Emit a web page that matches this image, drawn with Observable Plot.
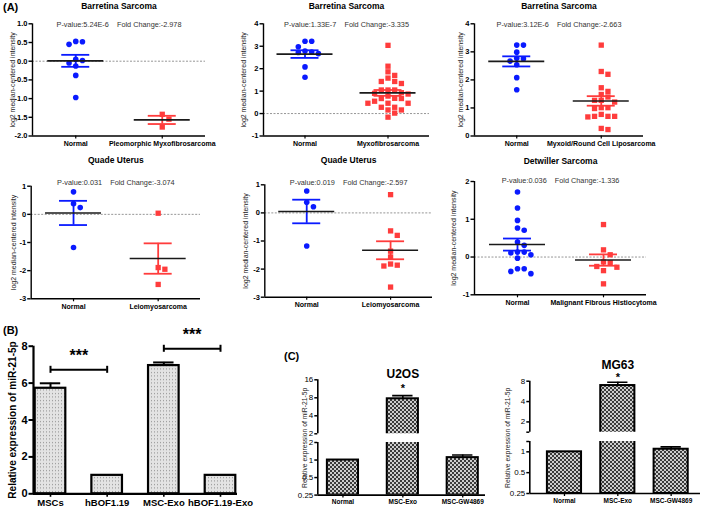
<!DOCTYPE html>
<html><head><meta charset="utf-8">
<script src="https://cdn.jsdelivr.net/npm/d3@7"></script>
<script src="https://cdn.jsdelivr.net/npm/@observablehq/plot@0.6"></script>
<style>
body{margin:0;background:#fff;font-family:"Liberation Sans",Arial,sans-serif;}
#fig{position:relative;width:709px;height:508px;overflow:hidden;background:#fff;}
.p{position:absolute;}
.p svg{overflow:visible !important;background:transparent !important;max-width:none !important;}
.lab{position:absolute;font-weight:bold;font-size:11px;line-height:14px;}
</style></head><body>
<svg width="0" height="0" style="position:absolute">
<defs>
<pattern id="dots" width="3" height="3.5" patternUnits="userSpaceOnUse"><rect width="3" height="3.5" fill="#e3e3e3"/><rect x="1" y="1" width="1" height="1" fill="#8a8a8a"/></pattern>
<pattern id="checker" width="4" height="4" patternUnits="userSpaceOnUse"><rect width="4" height="4" fill="#cdcdcd"/><rect width="2" height="2" fill="#3a3a3a"/><rect x="2" y="2" width="2" height="2" fill="#3a3a3a"/></pattern>
</defs></svg>
<div id="fig">
<div class="lab" style="left:3px;top:0px">(A)</div>
<div class="lab" style="left:3px;top:323px">(B)</div>
<div class="lab" style="left:284px;top:349px">(C)</div>
</div>
<script>
// ---------- DATA ----------
const yLabelA = "log2 median-centered intensity";

const a1Title = "Barretina Sarcoma";
const a1Stat = "P-value:5.24E-6    Fold Change:-2.978";
const a1Groups = ["Normal", "Pleomorphic Myxofibrosarcoma"];
const a1Normal = [0.53, 0.52, 0.45, 0.05, 0.02, -0.05, -0.13, -0.38, -0.97];
const a1Tumor = [-1.42, -1.55, -1.76];
const a1Mean = [0.01, -1.57];
const a1Sem = [0.16, 0.11];
const a1Ticks = [1, 0.5, 0, -0.5, -1, -1.5, -2];

const a2Title = "Barretina Sarcoma";
const a2Stat = "P-value:1.33E-7    Fold Change:-3.335";
const a2Groups = ["Normal", "Myxofibrosarcoma"];
const a2Normal = [3.22, 3.22, 2.98, 2.79, 2.74, 2.72, 2.67, 2.08, 1.62];
const a2Tumor = [3.04, 2.11, 1.86, 1.70, 1.58, 1.43, 1.43, 1.34, 1.05, 1.05, 1.05, 0.93, 0.90, 0.87, 0.78, 0.68, 0.67, 0.67, 0.55, 0.46, 0.46, 0.46, 0.28, 0.28, 0.16, 0.16, 0.02, -0.16];
const a2Mean = [2.65, 0.92];
const a2Sem = [0.17, 0.13];
const a2Ticks = [4, 3, 2, 1, 0, -1];

const a3Title = "Barretina Sarcoma";
const a3Stat = "P-value:3.12E-6    Fold Change:-2.663";
const a3Groups = ["Normal", "Myxoid/Round Cell Liposarcoma"];
const a3Normal = [3.24, 3.24, 2.99, 2.77, 2.75, 2.67, 2.54, 2.08, 1.65];
const a3Tumor = [3.24, 2.30, 2.20, 1.72, 1.59, 1.48, 1.39, 1.27, 1.27, 1.21, 1.01, 1.01, 0.98, 0.77, 0.70, 0.70, 0.70, 0.68, 0.27, 0.23];
const a3Mean = [2.66, 1.25];
const a3Sem = [0.18, 0.17];
const a3Ticks = [4, 3, 2, 1, 0];

const a4Title = "Quade Uterus";
const a4Stat = "P-value:0.031    Fold Change:-3.074";
const a4Groups = ["Normal", "Leiomyosarcoma"];
const a4Normal = [0.80, 0.38, 0.24, -1.18];
const a4Tumor = [0.04, -1.89, -1.95, -2.49];
const a4Mean = [0.05, -1.57];
const a4Sem = [0.43, 0.54];
const a4Ticks = [1, 0, -1, -2, -3];

const a5Title = "Quade Uterus";
const a5Stat = "P-value:0.019    Fold Change:-2.597";
const a5Groups = ["Normal", "Leiomyosarcoma"];
const a5Normal = [0.78, 0.38, 0.22, -1.18];
const a5Tumor = [0.65, -0.64, -0.80, -1.36, -1.57, -1.82, -1.86, -1.89, -2.64];
const a5Mean = [0.05, -1.33];
const a5Sem = [0.42, 0.32];
const a5Ticks = [1, 0, -1, -2, -3];

const a6Title = "Detwiller Sarcoma";
const a6Stat = "P-value:0.036    Fold Change:-1.336";
const a6Groups = ["Normal", "Malignant Fibrous Histiocytoma"];
const a6Normal = [1.72, 1.30, 0.97, 0.77, 0.71, 0.40, 0.31, 0.13, 0.13, 0.11, 0.06, -0.03, -0.31, -0.31, -0.38, -0.44];
const a6Tumor = [0.86, 0.19, 0.06, -0.13, -0.15, -0.25, -0.27, -0.36, -0.71];
const a6Mean = [0.33, -0.08];
const a6Sem = [0.16, 0.15];
const a6Ticks = [2, 1, 0, -1];

const bCats = ["MSCs", "hBOF1.19", "MSC-Exo", "hBOF1.19-Exo"];
const bMeans = [5.72, 1.0, 6.95, 1.0];
const bErrs = [0.27, 0, 0.17, 0];
const bSigFrom = [0, 2];
const bSigTo = [1, 3];
const bSigLevel = [6.72, 7.86];
const bSigLabel = ["***", "***"];
const bTicks = [0, 2, 4, 6, 8];
const yLabelBC = "Relative expression of miR-21-5p";

const cCats = ["Normal", "MSC-Exo", "MSC-GW4869"];
const u2osTitle = "U2OS";
const u2osVals = [1.0, 7.7, 1.1];
const u2osErrs = [0, 1.0, 0.12];
const u2osStars = ["", "*", ""];
const u2osUpperTicks = [2, 4, 8, 16];
const u2osLowerTicks = [0.25, 0.5, 1, 2];
const u2osBreak = 2;
const u2osTop = 16;

const mg63Title = "MG63";
const mg63Vals = [1.0, 6.9, 1.09];
const mg63Errs = [0, 0.8, 0.09];
const mg63Stars = ["", "*", ""];
const mg63UpperTicks = [2, 4, 8];
const mg63LowerTicks = [0.25, 0.5, 1];
const mg63Break = 1.41;
const mg63Top = 8;

// ---------- HELPERS ----------
const BLUE = "#0a1aff", RED = "#ff3c3c";
const FONT = "Liberation Sans, Arial, Helvetica, sans-serif";
const SLOTS = [0, 1, -1, 2, -2, 3, -3, 4, -4, 5, -5, 6, -6];
const fig = document.getElementById("fig");
function place(svg, left, top) {
  const d = document.createElement("div");
  d.className = "p";
  d.style.left = left + "px"; d.style.top = top + "px";
  d.appendChild(svg); fig.appendChild(d);
}
const baseStyle = {fontFamily: FONT, overflow: "visible", background: "transparent", color: "#000"};

function scatterPanel(c) {
  const fw = c.width - c.ml - c.mr;
  const fh = c.height - c.mt - c.mb;
  const pxX = fw / 4, pxY = fh / (c.domain[1] - c.domain[0]);
  const centers = [1, 3];
  const pts = [];
  [c.normal, c.tumor].forEach((vals, g) => {
    const placed = [];
    vals.slice().sort((a, b) => b - a).forEach(v => {
      for (const s of SLOTS) {
        if (!placed.some(p => p.s === s && Math.abs(p.v - v) * pxY < 5.4)) { placed.push({v, s}); break; }
      }
    });
    placed.forEach(p => pts.push({g, x: centers[g] + p.s * 6.7 / pxX, y: p.v}));
  });
  const stats = [0, 1].map(g => ({g, cx: centers[g], m: c.mean[g], s: c.sem[g], col: g ? RED : BLUE}));
  const mw = 28 / pxX, sw = 14 / pxX;
  const marks = [];
  if (c.domain[0] < 0) marks.push(Plot.ruleY([0], {stroke: "#8a8a8a", strokeDasharray: "2,1.5", strokeWidth: 0.9}));
  marks.push(
    Plot.ruleX([0], {stroke: "#000", strokeWidth: 1.4}),
    Plot.ruleY([c.domain[0]], {stroke: "#000", strokeWidth: 1.4}),
    Plot.axisY({ticks: c.ticks, tickFormat: c.fmt || (d => String(d)), tickSize: 3.5, tickPadding: 1.5, fontSize: 7.5, fontWeight: "bold", strokeWidth: 1.4, label: null}),
    Plot.axisX({ticks: centers, tickFormat: d => c.groups[d === 1 ? 0 : 1], tickSize: 3, tickPadding: 2, fontSize: 7, fontWeight: "bold", strokeWidth: 1.2, label: null}),
    Plot.dot(pts.filter(d => d.g === 0), {x: "x", y: "y", r: 2.8, fill: BLUE, symbol: "circle"}),
    Plot.dot(pts.filter(d => d.g === 1), {x: "x", y: "y", r: 3.0, fill: RED, symbol: "square"}),
    Plot.ruleX(stats, {x: "cx", y1: d => d.m - d.s, y2: d => d.m + d.s, stroke: "col", strokeWidth: 1.8}),
    Plot.ruleY(stats, {y: d => d.m + d.s, x1: d => d.cx - sw, x2: d => d.cx + sw, stroke: "col", strokeWidth: 1.8}),
    Plot.ruleY(stats, {y: d => d.m - d.s, x1: d => d.cx - sw, x2: d => d.cx + sw, stroke: "col", strokeWidth: 1.8}),
    Plot.ruleY(stats, {y: "m", x1: d => d.cx - mw, x2: d => d.cx + mw, stroke: "#1a1a1a", strokeWidth: 1.6}),
    Plot.text([c.title], {frameAnchor: "top", lineAnchor: "middle", dy: c.titleDy, fontSize: 8.5, fontWeight: "bold"}),
    Plot.text([c.stat], {frameAnchor: "top", lineAnchor: "middle", dy: c.pDy, fontSize: 7.3, fill: "#333"}),
    Plot.text([yLabelA], {frameAnchor: "left", textAnchor: "middle", lineAnchor: "middle", rotate: -90, dx: c.labDx, fontSize: 7, fill: "#222"})
  );
  const svg = Plot.plot({
    width: c.width, height: c.height,
    marginLeft: c.ml, marginRight: c.mr, marginTop: c.mt, marginBottom: c.mb,
    x: {domain: [0, 4]}, y: {domain: c.domain},
    color: {type: "identity"},
    style: baseStyle, marks
  });
  place(svg, c.left, c.top);
}

const row1 = {top: 0, height: 152, mt: 23.3, mb: 16.5, titleDy: -17.8, pDy: 0.7};
scatterPanel({...row1, left: 0, width: 235, ml: 32, mr: 30, domain: [-2, 1], ticks: a1Ticks, fmt: d => d.toFixed(1), labDx: -20,
  title: a1Title, stat: a1Stat, groups: a1Groups, normal: a1Normal, tumor: a1Tumor, mean: a1Mean, sem: a1Sem});
scatterPanel({...row1, left: 235, width: 235, ml: 28, mr: 41, domain: [-1, 4], ticks: a2Ticks, labDx: -20,
  title: a2Title, stat: a2Stat, groups: a2Groups, normal: a2Normal, tumor: a2Tumor, mean: a2Mean, sem: a2Sem});
scatterPanel({...row1, left: 470, width: 239, ml: 4, mr: 66, domain: [0, 4], ticks: a3Ticks, labDx: -14,
  title: a3Title, stat: a3Stat, groups: a3Groups, normal: a3Normal, tumor: a3Tumor, mean: a3Mean, sem: a3Sem});
scatterPanel({top: 152, height: 158, mt: 33.7, mb: 11.7, titleDy: -25.7, pDy: -4,
  left: 0, width: 235, ml: 30.7, mr: 35, domain: [-3, 1], ticks: a4Ticks, labDx: -17.5,
  title: a4Title, stat: a4Stat, groups: a4Groups, normal: a4Normal, tumor: a4Tumor, mean: a4Mean, sem: a4Sem});
scatterPanel({top: 152, height: 158, mt: 32.3, mb: 13.3, titleDy: -24.3, pDy: -2.6,
  left: 235, width: 235, ml: 29.3, mr: 38, domain: [-3, 1], ticks: a5Ticks, labDx: -19.3,
  title: a5Title, stat: a5Stat, groups: a5Groups, normal: a5Normal, tumor: a5Tumor, mean: a5Mean, sem: a5Sem});
scatterPanel({top: 152, height: 158, mt: 29, mb: 15.7, titleDy: -20, pDy: -1,
  left: 470, width: 239, ml: 4, mr: 63, domain: [-1, 2], ticks: a6Ticks, labDx: -21,
  title: a6Title, stat: a6Stat, groups: a6Groups, normal: a6Normal, tumor: a6Tumor, mean: a6Mean, sem: a6Sem});

// ---------- PANEL B ----------
{
  const rows = bCats.map((k, i) => ({i, k, v: bMeans[i], e: bErrs[i]}));
  const errRows = rows.filter(d => d.e > 0);
  const sig = bSigFrom.map((a, j) => ({a, b: bSigTo[j], y: bSigLevel[j], t: bSigLabel[j]}));
  const ends = sig.flatMap(d => [{x: d.a, y: d.y}, {x: d.b, y: d.y}]);
  const xd = [-0.3, 3.3];
  const svg = Plot.plot({
    width: 240, height: 193, marginLeft: 33, marginRight: 3, marginTop: 30.7, marginBottom: 14.7,
    x: {domain: xd}, y: {domain: [0, 8]},
    style: baseStyle,
    marks: [
      Plot.rect(rows, {x1: d => d.i - 0.27, x2: d => d.i + 0.27, y1: 0, y2: "v", fill: "url(#dots)", stroke: "#000", strokeWidth: 2.2}),
      Plot.ruleX(errRows, {x: "i", y1: "v", y2: d => d.v + d.e, strokeWidth: 2}),
      Plot.ruleY(errRows, {y: d => d.v + d.e, x1: d => d.i - 0.18, x2: d => d.i + 0.18, strokeWidth: 2}),
      Plot.ruleY(sig, {y: "y", x1: "a", x2: "b", strokeWidth: 2}),
      Plot.ruleX(ends, {x: "x", y1: d => d.y - 0.19, y2: d => d.y + 0.19, strokeWidth: 2}),
      Plot.text(sig, {x: d => (d.a + d.b) / 2, y: "y", text: "t", dy: -14, fontSize: 16, fontWeight: "bold", letterSpacing: 1}),
      Plot.ruleX([xd[0]], {strokeWidth: 2.2}),
      Plot.ruleY([0], {strokeWidth: 2.2}),
      Plot.axisY({ticks: bTicks, tickSize: 4.5, tickPadding: 1.5, fontSize: 11, fontWeight: "bold", strokeWidth: 2, label: null}),
      Plot.axisX({ticks: [0, 1, 2, 3], tickFormat: d => bCats[d], tickSize: 3.5, tickPadding: 1.5, fontSize: 9.5, fontWeight: "bold", strokeWidth: 1.6, label: null}),
      Plot.text([yLabelBC], {frameAnchor: "left", textAnchor: "middle", lineAnchor: "middle", rotate: -90, dx: -21, fontSize: 10, fontWeight: "bold"})
    ]
  });
  place(svg, 0, 315);
}

// ---------- PANEL C ----------
function brokenPanel(c) {
  const rows = cCats.map((k, i) => ({i, v: c.vals[i], e: c.errs[i], s: c.stars[i]}));
  const errRows = rows.filter(d => d.e > 0);
  const bottom = c.lowerTicks[0];
  const barMarks = () => [
    Plot.rect(rows, {x1: d => d.i - c.hw, x2: d => d.i + c.hw, y1: bottom, y2: "v", fill: "url(#checker)", stroke: "#000", strokeWidth: 2, clip: true}),
    Plot.ruleX(errRows, {x: "i", y1: "v", y2: d => d.v + d.e, strokeWidth: 1.6, clip: true}),
    Plot.ruleY(errRows, {y: d => d.v + d.e, x1: d => d.i - c.cap, x2: d => d.i + c.cap, strokeWidth: 1.6, clip: true}),
    Plot.ruleX([c.xd[0]], {strokeWidth: 1.6})
  ];
  const upTicks = c.brk < c.upperTicks[0] ? [c.brk, ...c.upperTicks] : c.upperTicks;
  const loTicks = c.brk > c.lowerTicks[c.lowerTicks.length - 1] ? [...c.lowerTicks, c.brk] : c.lowerTicks;
  const fmt = d => (d === c.brk && !c.upperTicks.includes(d) && !c.lowerTicks.includes(d)) ? "" : String(d);
  const upper = Plot.plot({
    width: c.width, height: c.upH, marginLeft: c.ml, marginRight: c.mr, marginTop: c.upMt, marginBottom: 0,
    x: {domain: c.xd, axis: null}, y: {type: "log", domain: [c.brk, c.top]},
    style: baseStyle,
    marks: [
      ...barMarks(),
      Plot.axisY({ticks: upTicks, tickFormat: fmt, tickSize: 3, tickPadding: 1.5, fontSize: 8, strokeWidth: 1.5, label: null}),
      Plot.text([{x: 1, t: c.title}], {x: "x", text: "t", frameAnchor: "top", lineAnchor: "middle", dy: c.titleDy, fontSize: 12, fontWeight: "bold"}),
      Plot.text(rows.filter(d => d.s), {x: "i", y: d => d.v + d.e, text: "s", dy: c.starDy, fontSize: 11, fontWeight: "bold"})
    ]
  });
  place(upper, c.left, c.upTop);
  const lower = Plot.plot({
    width: c.width, height: c.loH, marginLeft: c.ml, marginRight: c.mr, marginTop: 0, marginBottom: c.loMb,
    x: {domain: c.xd}, y: {type: "log", domain: [bottom, c.brk]},
    style: baseStyle,
    marks: [
      ...barMarks(),
      Plot.ruleY([bottom], {strokeWidth: 1.6}),
      Plot.axisY({ticks: loTicks, tickFormat: fmt, tickSize: 3, tickPadding: 1.5, fontSize: 8, strokeWidth: 1.5, label: null}),
      Plot.axisX({ticks: [0, 1, 2], tickFormat: d => cCats[d], tickSize: 3, tickPadding: 1.5, fontSize: 6.5, fontWeight: "bold", strokeWidth: 1.3, label: null}),
      Plot.text([yLabelBC], {frameAnchor: "left", textAnchor: "middle", lineAnchor: "middle", rotate: -90, dx: c.labDx, dy: c.labDy, fontSize: 6.8, fill: "#222"})
    ]
  });
  place(lower, c.left, c.loTop);
}

brokenPanel({title: u2osTitle, vals: u2osVals, errs: u2osErrs, stars: u2osStars,
  upperTicks: u2osUpperTicks, lowerTicks: u2osLowerTicks, brk: u2osBreak, top: u2osTop,
  left: 230, width: 260, ml: 87.3, mr: 5, xd: [-0.42, 2.38], hw: 0.26, cap: 0.17,
  upTop: 355, upH: 78.3, upMt: 24.3, loTop: 441.7, loH: 66.3, loMb: 13.7,
  titleDy: -5.5, starDy: -7.5, labDx: -13, labDy: -31});

brokenPanel({title: mg63Title, vals: mg63Vals, errs: mg63Errs, stars: mg63Stars,
  upperTicks: mg63UpperTicks, lowerTicks: mg63LowerTicks, brk: mg63Break, top: mg63Top,
  left: 470, width: 239, ml: 59.3, mr: 9, xd: [-0.65, 2.55], hw: 0.32, cap: 0.19,
  upTop: 355, upH: 76.7, upMt: 25.7, loTop: 440.7, loH: 67.3, loMb: 15.3,
  titleDy: -15.7, starDy: -4.8, labDx: -22.3, labDy: -29.7});
</script>
</body></html>
